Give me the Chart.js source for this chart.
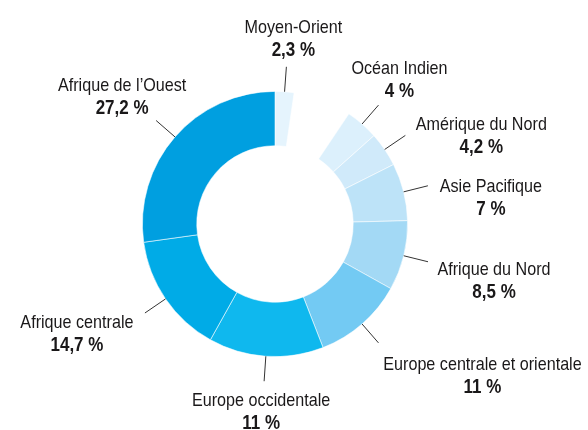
<!DOCTYPE html>
<html lang="fr">
<head>
<meta charset="utf-8">
<title>Répartition par région</title>
<script src="https://cdn.jsdelivr.net/npm/chart.js@4.4.1/dist/chart.umd.min.js"></script>
<style>
  html, body { margin: 0; padding: 0; background: #fff; }
  #wrap { width: 588px; height: 430px; }
</style>
</head>
<body>
<div id="wrap"><canvas id="chart" width="588" height="430"></canvas></div>
<script>
// regions, clockwise from 12 o'clock
const regions = ['Moyen-Orient', 'Océan Indien', 'Amérique du Nord', 'Asie Pacifique', 'Afrique du Nord',
  'Europe centrale et orientale', 'Europe occidentale', 'Afrique centrale', 'Afrique de l\u2019Ouest'];
// percentages as printed on the labels
const printed = [2.3, 4, 4.2, 7, 8.5, 11, 11, 14.7, 27.2];
// arc sizes as drawn in the picture (Europe occidentale is drawn wider than its label says)
const drawn = [2.3, 4, 4.2, 7, 8.5, 11, 14, 14.7, 27.2];
const colors = ['#e5f4fd', '#dcf0fc', '#d0eafa', '#bde3f8', '#a3d9f5', '#73caf3', '#0fb8ee', '#00abe7', '#009fe0'];

// empty wedge between Moyen-Orient and Océan Indien
const gap = 100 - drawn.reduce((a, b) => a + b, 0);
const values = [drawn[0], gap, ...drawn.slice(1)];
const bg = [colors[0], 'rgba(0,0,0,0)', ...colors.slice(1)];
const names = [regions[0], '', ...regions.slice(1)];
const labels = [printed[0], null, ...printed.slice(1)];

// label placement relative to the end of each leader line: [dx, dy of name baseline]
const labelOffsets = [[7, -34], null, [21, -31], [76, -5], [63, 6], [66, 13], [104, 27], [-3, 25], [-68, 15], [-34, -30]];
const LEADER = 25;
const LINE_GAP = 23;
const FONT = '"Liberation Sans", Arial, sans-serif';
const NARROW = 0.85; // the original uses a condensed face

const fmt = v => String(v).replace('.', ',') + ' %';

function narrowText(ctx, text, x, y) {
  ctx.save();
  ctx.translate(x, y);
  ctx.scale(NARROW, 1);
  ctx.fillText(text, 0, 0);
  ctx.restore();
}

const leaderLabels = {
  id: 'leaderLabels',
  afterDatasetsDraw(chart) {
    const ctx = chart.ctx;
    const meta = chart.getDatasetMeta(0);
    meta.data.forEach((arc, i) => {
      if (labels[i] === null) return;
      const mid = (arc.startAngle + arc.endAngle) / 2;
      const r = arc.outerRadius;
      const x0 = arc.x + Math.cos(mid) * r, y0 = arc.y + Math.sin(mid) * r;
      const x1 = arc.x + Math.cos(mid) * (r + LEADER), y1 = arc.y + Math.sin(mid) * (r + LEADER);
      ctx.save();
      ctx.strokeStyle = '#333';
      ctx.lineWidth = 1;
      ctx.beginPath();
      ctx.moveTo(x0, y0);
      ctx.lineTo(x1, y1);
      ctx.stroke();

      const [dx, dy] = labelOffsets[i];
      ctx.fillStyle = '#1a1819';
      ctx.textAlign = 'center';
      ctx.textBaseline = 'alphabetic';
      ctx.font = '19px ' + FONT;
      narrowText(ctx, names[i], x1 + dx, y1 + dy);
      ctx.font = 'bold 20px ' + FONT;
      narrowText(ctx, fmt(labels[i]), x1 + dx, y1 + dy + LINE_GAP);
      ctx.restore();
    });
  }
};

new Chart(document.getElementById('chart'), {
  type: 'doughnut',
  data: {
    labels: names,
    datasets: [{
      data: values,
      backgroundColor: bg,
      borderColor: values.map((v, i) => labels[i] === null ? 'rgba(0,0,0,0)' : 'rgba(255,255,255,0.7)'),
      borderWidth: 0.8,
      hoverOffset: 0
    }]
  },
  options: {
    responsive: false,
    animation: false,
    cutout: '59%',
    layout: { padding: { left: 142, right: 180, top: 91, bottom: 73 } },
    events: [],
    plugins: {
      legend: { display: false },
      tooltip: { enabled: false }
    }
  },
  plugins: [leaderLabels]
});
</script>
</body>
</html>
